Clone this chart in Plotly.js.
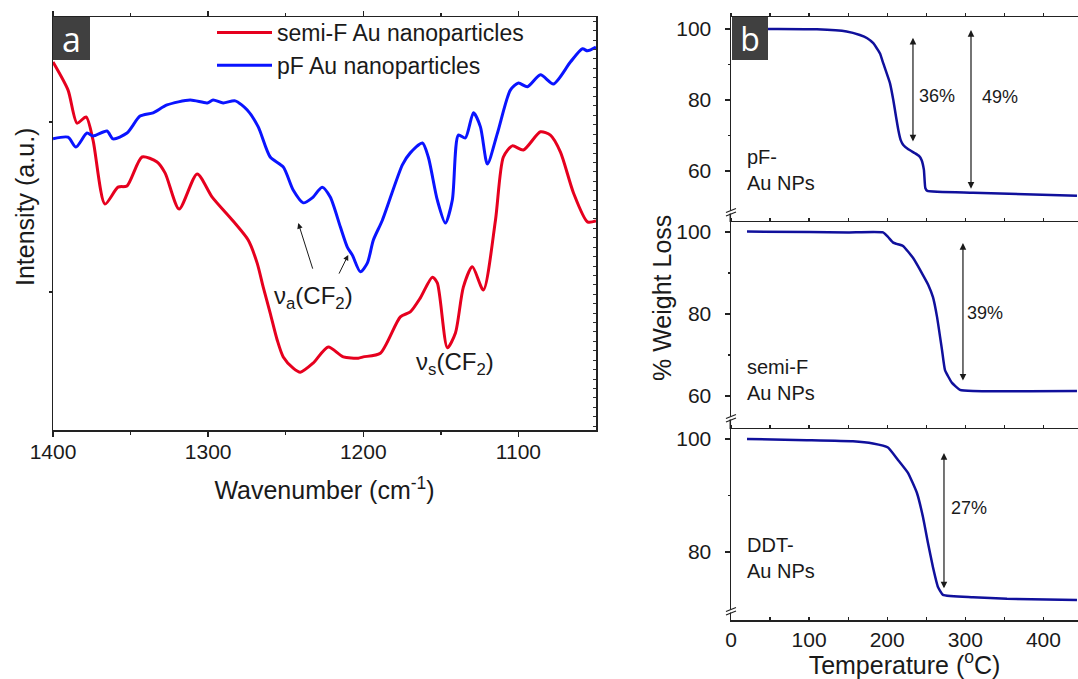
<!DOCTYPE html>
<html><head><meta charset="utf-8">
<script src="https://cdn.plot.ly/plotly-3.0.1.min.js"></script>
<style>html,body{margin:0;padding:0;background:#fff}#chart{width:1078px;height:679px}</style>
</head><body><div id="chart"></div>
<script>
// ---------- Panel a: FTIR ----------
const wnSemi = [1400,1390.3,1384.5,1378.7,1374.2,1366.5,1358.1,1352.3,1342.6,1332.9,1327.7,1318.7,1307.1,1297.4,1283.9,1274.2,1268.4,1264.5,1260.0,1255.5,1251.6,1245.2,1240.6,1232.3,1222.6,1212.9,1203.2,1200.0,1189.0,1176.1,1169.7,1163.2,1155.5,1152.3,1145.8,1140.6,1135.5,1129.7,1122.6,1114.8,1109.7,1103.9,1096.8,1085.8,1079.4,1072.9,1064.5,1055.5,1050];
const intSemi = [89.1,82.3,74.3,75.8,70.2,54.7,58.8,59.1,66.1,64.9,62.2,53.5,62.0,56.4,50.6,46.0,40.4,34.6,28.3,21.8,17.7,15.0,14.0,16.2,20.1,17.7,17.4,17.7,18.6,27.4,28.6,32.0,37.0,35.6,19.9,23.5,34.6,39.5,33.9,50.8,66.1,68.8,67.8,72.2,71.4,67.3,57.4,50.4,50.6];
const wnPF = [1400,1390.3,1385.2,1378.1,1374.2,1365.2,1361.3,1352.3,1343.9,1335.5,1326.5,1311.6,1300.6,1296.8,1290.3,1282.6,1274.8,1267.7,1260.0,1251.6,1245.2,1238.7,1232.9,1226.5,1221.3,1214.8,1210.3,1207.1,1201.9,1197.4,1193.5,1187.7,1174.8,1169.7,1161.9,1158.1,1152.3,1147.1,1142.6,1138.7,1134.2,1129.0,1124.5,1120.0,1113.5,1105.2,1100.0,1094.2,1085.8,1077.4,1066.5,1058.7,1055.5,1050];
const intPF = [70.5,70.9,68.5,71.9,71.2,72.4,70.5,71.9,76.0,76.8,78.7,79.9,79.2,79.9,79.2,79.7,77.5,73.4,66.1,63.7,58.1,55.0,56.2,58.8,56.4,49.2,44.3,42.4,38.3,40.4,46.0,50.8,64.2,67.1,69.5,66.1,55.7,50.1,55.7,71.4,70.7,76.8,73.4,64.4,71.9,82.3,84.0,83.1,86.0,83.8,89.1,92.3,91.8,92.7];
const wnTicks = [1400,1300,1200,1100];
const wnMinor = [1350,1250,1150];

// ---------- Panel b: TGA ----------
const tPF = [20,60,110,148,165,174.4,182.2,190.8,195,203.6,207.8,211.3,214.3,217.3,220.6,227,235.6,241,244,247,248.8,251.4,310,443];
const wPF = [100,100,99.9,99.3,98.3,97.4,96.0,93.1,90.3,84.7,80.0,75.3,71.5,68.7,67.3,66.1,65.0,64.2,63.1,60.3,55.2,54.4,53.9,53.0];
const tSemi = [20.5,100,150,194.6,201,207.8,212,220.2,233,245.8,252.6,258.6,263.8,270.2,274,283,293.2,309.9,443];
const wSemi = [100.1,100,99.9,99.9,98.8,97.4,97.1,96.6,93.7,89.5,87.1,84.1,79.3,71.2,66.3,63.2,61.5,61.2,61.2];
const tDDT = [20.5,97.3,156.2,181.8,201,213.8,226.6,238.2,245.8,252.2,258.6,265,271.4,309.9,353.4,443];
const wDDT = [100,99.8,99.6,99.2,98.5,96.3,94.0,90.4,86.2,81.6,77.3,73.8,72.4,72.0,71.7,71.5];
const lossLabels = ['36%','49%','39%','27%'];
const sampleLabels = ['pF-<br>Au NPs','semi-F<br>Au NPs','DDT-<br>Au NPs'];

const W = 1078, H = 679;
const px = x => x / W, py = y => 1 - y / H;
const FONT = 'Liberation Sans, Arial, sans-serif';
const INK = '#1a1a1a';
const TGA = '#10109c';

const traces = [
  {x: wnSemi, y: intSemi, type:'scatter', mode:'lines', name:'semi-F Au nanoparticles', line:{color:'#e6001e', width:3, shape:'spline', smoothing:0.7}, xaxis:'x', yaxis:'y'},
  {x: wnPF, y: intPF, type:'scatter', mode:'lines', name:'pF Au nanoparticles', line:{color:'#0a14ff', width:3, shape:'spline', smoothing:0.7}, xaxis:'x', yaxis:'y'},
  {x: [], y: [], type:'scatter', mode:'lines', showlegend:false, hoverinfo:'skip', xaxis:'x', yaxis:'y5'},
  {x: tPF, y: wPF, type:'scatter', mode:'lines', showlegend:false, line:{color:TGA, width:2.5, shape:'spline', smoothing:0.4}, xaxis:'x2', yaxis:'y2'},
  {x: tSemi, y: wSemi, type:'scatter', mode:'lines', showlegend:false, line:{color:TGA, width:2.5, shape:'spline', smoothing:0.4}, xaxis:'x3', yaxis:'y3'},
  {x: tDDT, y: wDDT, type:'scatter', mode:'lines', showlegend:false, line:{color:TGA, width:2.5, shape:'spline', smoothing:0.4}, xaxis:'x4', yaxis:'y4'},
  {x: [], y: [], type:'scatter', mode:'lines', showlegend:false, hoverinfo:'skip', xaxis:'x5', yaxis:'y4'}
];

const axBase = {showgrid:false, zeroline:false, showline:true, linecolor:'#222', linewidth:1.5, tickcolor:'#222', tickwidth:1.3, tickfont:{family:FONT, size:21, color:INK}};
const bDomain = [px(731), 1];
const bRange = [0, 444.3];
const topX = Object.assign({}, axBase, {domain:bDomain, range:bRange, side:'top', ticks:'outside', ticklen:3, tick0:0, dtick:50, showticklabels:false, linewidth:1.3});

const layout = {
  width: W, height: H,
  margin: {l:0, r:0, t:0, b:0},
  paper_bgcolor:'#fff', plot_bgcolor:'rgba(0,0,0,0)',
  font: {family: FONT, color: INK},
  showlegend: true,
  legend: {x: px(212), y: py(11), xanchor:'left', yanchor:'top', bgcolor:'rgba(0,0,0,0)', font:{family:FONT, size:23, color:INK}, itemwidth:55, tracegroupgap:0},
  xaxis: Object.assign({}, axBase, {domain:[px(53), px(596)], range:[1400,1050], anchor:'y', mirror:'ticks', ticks:'outside', ticklen:5, tickvals:wnTicks, minor:{tickvals:wnMinor, ticks:'outside', ticklen:3, tickcolor:'#222'}, ticklabelstandoff:-3,
    title:{text:'Wavenumber (cm<sup>-1</sup>)', font:{family:FONT, size:25, color:INK}, standoff:20}}),
  yaxis: Object.assign({}, axBase, {domain:[py(430), py(17)], range:[0,100], anchor:'x', mirror:true, ticks:'outside', ticklen:3, tickvals:[33.4,74.6], showticklabels:false}),
  yaxis5: {overlaying:'y', side:'right', anchor:'x', range:[0,100], showgrid:false, zeroline:false, showline:false, ticks:'inside', ticklen:3, tickcolor:'#333', tickwidth:1, tick0:96.7, dtick:2.28, showticklabels:false},
  xaxis2: Object.assign({}, topX, {anchor:'y2'}),
  yaxis2: Object.assign({}, axBase, {domain:[py(212), py(17)], range:[48.45,103.38], anchor:'x2', ticks:'outside', ticklen:5, tickvals:[60,80,100], minor:{tickvals:[70,90], ticks:'outside', ticklen:2, tickcolor:'#222'}, ticklabelstandoff:9}),
  xaxis3: Object.assign({}, topX, {anchor:'y3'}),
  yaxis3: Object.assign({}, axBase, {domain:[py(417), py(222)], range:[54.88,102.44], anchor:'x3', ticks:'outside', ticklen:5, tickvals:[60,80,100], minor:{tickvals:[70,90], ticks:'outside', ticklen:2, tickcolor:'#222'}, ticklabelstandoff:9}),
  xaxis4: Object.assign({}, axBase, {domain:bDomain, range:bRange, anchor:'y4', side:'bottom', ticks:'inside', ticklen:3, tick0:0, dtick:100, minor:{dtick:50, ticks:'inside', ticklen:3, tickcolor:'#222'},
    title:{text:'Temperature (<sup>o</sup>C)', font:{family:FONT, size:25, color:INK}, standoff:5}}),
  xaxis5: Object.assign({}, topX, {overlaying:'x4', anchor:'y4'}),
  yaxis4: Object.assign({}, axBase, {domain:[py(620), py(429)], range:[67.96,101.77], anchor:'x4', ticks:'outside', ticklen:5, tickvals:[80,100], minor:{tickvals:[90], ticks:'outside', ticklen:2, tickcolor:'#222'}, ticklabelstandoff:9}),
  shapes: [],
  annotations: []
};

// connect y-axis line of panel b between subplots
[[212,222],[417,429]].forEach(([a,b]) => layout.shapes.push({type:'line', xref:'paper', yref:'paper', x0:px(730.3), x1:px(730.3), y0:py(a), y1:py(b), line:{color:'#222', width:1.5}}));
// axis breaks
[212,418,611].forEach(yb => {
  layout.shapes.push({type:'rect', xref:'paper', yref:'paper', x0:px(728), x1:px(733), y0:py(yb+1.5), y1:py(yb-1.5), fillcolor:'#fff', line:{width:0}});
  layout.shapes.push({type:'line', xref:'paper', yref:'paper', x0:px(726), x1:px(736), y0:py(yb+0.5), y1:py(yb-3.5), line:{color:'#222', width:1.2}});
  layout.shapes.push({type:'line', xref:'paper', yref:'paper', x0:px(726), x1:px(736), y0:py(yb+4), y1:py(yb), line:{color:'#222', width:1.2}});
});

const A = layout.annotations;
const panelTag = (x0, x1, t, size) => A.push({xref:'paper', yref:'paper', x:px(x0), y:py(17), xanchor:'left', yanchor:'top', width:x1-x0, height:43, bgcolor:'#404040', borderpad:0, borderwidth:0, align:'center', valign:'middle', text:t, showarrow:false, font:{family:'Open Sans, sans-serif', size:size, color:'#fff'}});
panelTag(53, 90, 'a', 34);
panelTag(732, 768, 'b', 32);
A.push({xref:'paper', yref:'paper', x:px(25), y:py(207), xanchor:'center', yanchor:'middle', text:'Intensity (a.u.)', textangle:-90, showarrow:false, font:{family:FONT, size:25, color:INK}});
A.push({xref:'paper', yref:'paper', x:px(662), y:py(298), xanchor:'center', yanchor:'middle', text:'% Weight Loss', textangle:-90, showarrow:false, font:{family:FONT, size:25, color:INK}});
// FTIR band labels and arrows
A.push({xref:'x', yref:'y', x:1232.3, y:32.0, xanchor:'center', yanchor:'middle', text:'ν<sub>a</sub>(CF<sub>2</sub>)', showarrow:false, font:{family:FONT, size:24, color:INK}});
A.push({xref:'x', yref:'y', x:1140.6, y:16.0, xanchor:'center', yanchor:'middle', text:'ν<sub>s</sub>(CF<sub>2</sub>)', showarrow:false, font:{family:FONT, size:24, color:INK}});
A.push({xref:'x', yref:'y', axref:'x', ayref:'y', x:1241.9, y:50.1, ax:1232.3, ay:38.7, text:'', showarrow:true, arrowhead:2, arrowsize:1.1, arrowwidth:1, arrowcolor:INK});
A.push({xref:'x', yref:'y', axref:'x', ayref:'y', x:1209.7, y:42.4, ax:1216.1, ay:37.5, text:'', showarrow:true, arrowhead:2, arrowsize:1.1, arrowwidth:1, arrowcolor:INK});
// TGA double arrows
const dbl = (xr, yr, x, y0, y1) => A.push({xref:xr, yref:yr, axref:xr, ayref:yr, x:x, y:y1, ax:x, ay:y0, text:'', showarrow:true, arrowhead:2, startarrowhead:2, arrowside:'end+start', arrowsize:1.1, startarrowsize:1.1, arrowwidth:1.2, arrowcolor:INK});
dbl('x2','y2', 233, 67.9, 97.5);
dbl('x2','y2', 307.3, 54.6, 99.7);
dbl('x3','y3', 297, 63.4, 97.3);
dbl('x4','y4', 272.7, 73.3, 97.5);
const lbl = (xr, yr, x, y, t) => A.push({xref:xr, yref:yr, x:x, y:y, xanchor:'center', yanchor:'middle', text:t, showarrow:false, font:{family:FONT, size:18, color:INK}});
lbl('x2','y2', 263.8, 81.1, lossLabels[0]);
lbl('x2','y2', 344.4, 80.8, lossLabels[1]);
lbl('x3','y3', 325.2, 80.2, lossLabels[2]);
lbl('x4','y4', 304.7, 87.8, lossLabels[3]);
const samp = (y, t) => A.push({xref:'paper', yref:'paper', x:px(745), y:py(y), xanchor:'left', yanchor:'middle', align:'left', text:t, showarrow:false, font:{family:FONT, size:20, color:INK}});
samp(170, sampleLabels[0]);
samp(380, sampleLabels[1]);
samp(558, sampleLabels[2]);

Plotly.newPlot('chart', traces, layout, {displayModeBar:false, staticPlot:true});
</script>
</body></html>
